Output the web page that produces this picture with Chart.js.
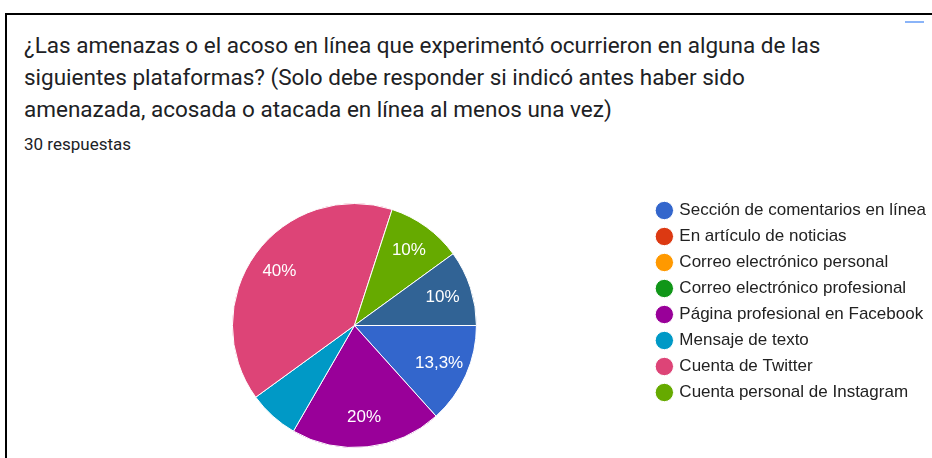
<!DOCTYPE html>
<html>
<head>
<meta charset="utf-8">
<script src="https://cdn.jsdelivr.net/npm/chart.js@4"></script>
<style>
  html, body { margin: 0; padding: 0; background: #fff; }
  #page { position: relative; width: 932px; height: 458px; overflow: hidden; }
  #frame { position: absolute; left: 5px; top: 13px; width: 940px; height: 460px; border-top: 2px solid #000; border-left: 2px solid #000; box-sizing: border-box; }
  #mark { position: absolute; left: 905px; top: 21px; width: 19px; height: 2px; background: #8ab4f8; }
  #chart-title { position: absolute; left: 24px; top: 29px; width: 820px; font-family: Roboto, sans-serif; font-size: 22.5px; line-height: 32px; color: #202124; }
  #count { position: absolute; left: 24px; top: 134px; font-family: Roboto, sans-serif; font-size: 17px; line-height: 20px; color: #202124; }
  #chart-box { position: absolute; left: 5px; top: 160px; width: 931px; height: 298px; }
</style>
</head>
<body>
<div id="page">
  <div id="frame"></div>
  <div id="mark"></div>
  <div id="chart-title">¿Las amenazas o el acoso en línea que experimentó ocurrieron en alguna de las siguientes plataformas? (Solo debe responder si indicó antes haber sido amenazada, acosada o atacada en línea al menos una vez)</div>
  <div id="count">30 respuestas</div>
  <div id="chart-box"><canvas id="chart-display"></canvas></div>
</div>
<script>
var labels = [
  'Sección de comentarios en línea',
  'En artículo de noticias',
  'Correo electrónico personal',
  'Correo electrónico profesional',
  'Página profesional en Facebook',
  'Mensaje de texto',
  'Cuenta de Twitter',
  'Cuenta personal de Instagram',
  'Otra',
  'Otras plataformas'
];
// responses out of 30
var counts = [4, 0, 0, 0, 6, 2, 12, 3, 0, 3];
var colors = ['#3366cc', '#dc3912', '#ff9900', '#109618', '#990099', '#0099c6', '#dd4477', '#66aa00', '#b82e2e', '#316395'];
var shownInLegend = 8;

var total = counts.reduce(function(a, b) { return a + b; }, 0);

// percent text inside slices (small ones are skipped, like google forms does)
var sliceLabels = {
  id: 'sliceLabels',
  afterDatasetsDraw: function(chart) {
    var c = chart.ctx;
    var meta = chart.getDatasetMeta(0);
    c.save();
    c.font = '17px "Liberation Sans", Arial, sans-serif';
    c.fillStyle = '#ffffff';
    c.textAlign = 'center';
    c.textBaseline = 'middle';
    meta.data.forEach(function(arc, i) {
      var pct = counts[i] / total * 100;
      if (pct < 8) return;
      var mid = (arc.startAngle + arc.endAngle) / 2;
      var r = arc.outerRadius * 0.76;
      var txt = (Math.round(pct * 10) / 10).toString().replace('.', ',') + '%';
      c.fillText(txt, arc.x + Math.cos(mid) * r, arc.y + Math.sin(mid) * r);
    });
    c.restore();
  }
};

var ctx = document.getElementById('chart-display');
new Chart(ctx, {
  type: 'pie',
  data: {
    labels: labels,
    datasets: [{
      data: counts,
      backgroundColor: colors,
      borderColor: '#ffffff',
      borderWidth: 1
    }]
  },
  options: {
    responsive: true,
    maintainAspectRatio: false,
    animation: false,
    rotation: 90,
    radius: 122,
    layout: { padding: { left: 55, top: 33, bottom: 0, right: 0 } },
    plugins: {
      tooltip: { enabled: false },
      legend: {
        position: 'right',
        align: 'start',
        labels: {
          usePointStyle: true,
          pointStyle: 'circle',
          boxWidth: 13,
          boxHeight: 13,
          padding: 9,
          color: '#222222',
          font: { family: '"Liberation Sans", Arial, sans-serif', size: 17 },
          filter: function(item) { return item.index < shownInLegend; }
        }
      }
    }
  },
  plugins: [sliceLabels]
});
</script>
</body>
</html>
